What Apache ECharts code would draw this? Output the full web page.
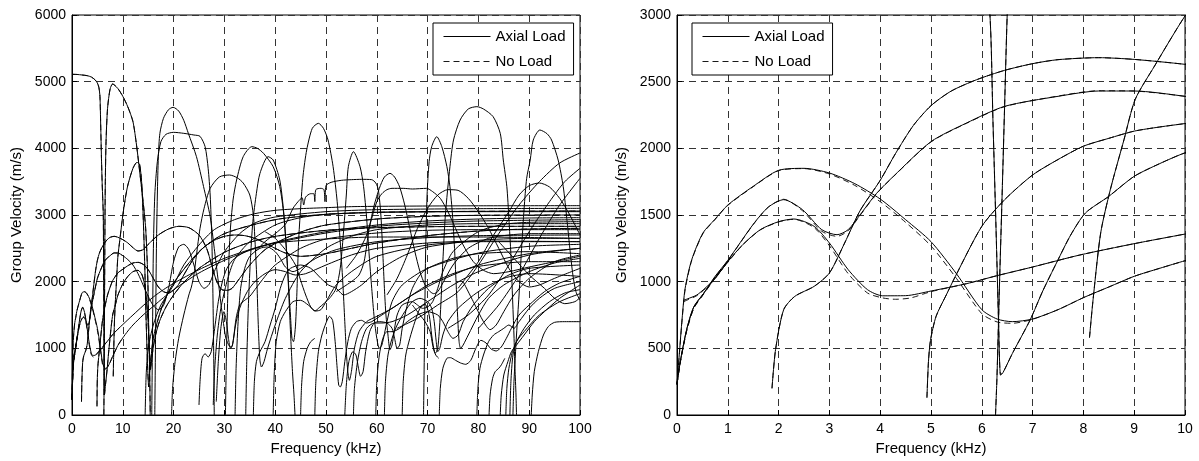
<!DOCTYPE html>
<html>
<head>
<meta charset="utf-8">
<script src="https://cdn.jsdelivr.net/npm/echarts@6/dist/echarts.min.js"></script>
<style>html,body{margin:0;padding:0;background:#fff}#c{width:1199px;height:461px}</style>
</head>
<body>
<div id="c"></div>
<script>
// ---------- modes visible in both panels (axial load, solid) ----------
const modeA = [[0,230],[0.05,480],[0.1,720],[0.16,950],[0.29,1165],[0.51,1365],[0.74,1465],[1,1575],[1.5,1715],[2,1835],[2.5,1850],[3,1815],[3.5,1735],[4,1620],[4.5,1465],[5,1300],[5.5,1060],[6,790],[6.3,720],[6.6,700],[7,720],[7.5,790],[8,880],[8.5,960],[9,1040],[9.5,1100],[10,1157],[11,1260],[12,1350],[14,1500],[16,1630],[18,1760],[20,1880],[25,2130],[30,2320],[35,2470],[40,2590],[50,2750],[60,2850],[70,2910],[80,2940],[90,2955],[100,2960]];
const modeB = [[0,230],[0.06,390],[0.19,640],[0.33,810],[0.52,910],[0.75,1040],[1,1160],[1.5,1430],[1.8,1560],[2.1,1615],[2.47,1540],[2.85,1390],[3.15,1352],[3.37,1390],[3.6,1500],[3.93,1663],[4.26,1790],[5,2050],[5.7,2190],[6.45,2315],[7.5,2390],[8.3,2430],[9,2430],[10,2390],[11,2330],[12,2250],[13,2120],[14,1950],[15,1780],[16,1640],[17,1580],[18,1640],[19,1900],[20,2300],[21,2520],[22,2560],[23,2480],[24,2250],[25,2000],[26,1900],[27,1960],[28,2150],[30,2450],[33,2720],[36,2880],[40,2970],[50,3050],[60,3080],[80,3095],[100,3100]];
const modeC = [[1.87,200],[1.94,490],[2.1,790],[2.32,890],[2.7,965],[3,1065],[3.3,1290],[3.6,1530],[4,1760],[4.3,1960],[4.65,2170],[5,2320],[5.4,2430],[5.9,2515],[6.45,2585],[7,2635],[7.5,2665],[8.3,2680],[9,2667],[10,2630],[11,2580],[12,2510],[13,2460],[14,2480],[15,2560],[17,2700],[19,2790],[21,2830],[23,2810],[25,2700],[26.5,2500],[27.5,2250],[28.5,2000],[29.5,1880],[30.5,1870],[31.5,1900],[33,2050],[35,2250],[38,2480],[42,2650],[46,2770],[50,2850],[60,2940],[70,2980],[80,2995],[100,3000]];
const modeD = [[0,230],[0.06,390],[0.19,640],[0.33,810],[0.52,910],[0.75,1030],[1,1150],[1.3,1280],[1.64,1390],[2,1450],[2.3,1470],[2.7,1415],[3,1290],[3.37,1090],[3.75,940],[4.05,894],[4.5,895],[5,930],[5.7,985],[6.3,1045],[7,1110],[7.93,1200],[9,1285],[10,1357],[12,1500],[14,1640],[16,1770],[18,1880],[20,1975],[25,2180],[30,2350],[35,2480],[40,2580],[50,2730],[60,2830],[70,2880],[80,2910],[100,2930]];
const modeE = [[0.13,860],[0.2,870],[0.39,900],[0.55,950],[0.72,1012],[0.9,1100],[1.05,1180]];
const modeF = [[4.92,130],[4.95,400],[4.99,560],[5.1,740],[5.3,900],[5.48,1040],[6,1415],[6.45,1615],[7,1800],[7.5,1916],[8,2016],[8.5,2075],[9,2129],[9.5,2160],[10,2186],[11,2240],[12,2280],[13,2290],[14,2260],[15,2180],[16,2050],[17,1920],[18,1850],[19,1830],[20,1870],[21,1960],[22,2100],[24,2350],[26,2520],[28,2620],[30,2680],[32,2700],[34,2690],[36,2650],[38,2580],[40,2500],[42,2430],[45,2380],[50,2420],[55,2500],[60,2580],[70,2690],[80,2760],[90,2790],[100,2800]];
const modeG = [[0,5110],[1,5108],[2,5100],[3,5090],[3.8,5070],[4.5,5030],[5,4980],[5.3,4910],[5.5,4780],[5.65,4350],[5.8,3850],[5.95,3450],[6.05,3250],[6.16,3000],[6.22,2200],[6.28,1400],[6.33,700],[6.37,300],[6.42,320],[6.6,460],[6.95,712],[7.2,930],[7.48,1148],[7.75,1350],[8.04,1515],[8.5,1640],[9,1790],[9.5,1885],[10,1966],[11,2080],[12,2150],[13,2170],[13.8,2100],[14.4,1900],[14.9,1500],[15.2,1000],[15.45,680],[15.7,850],[16.3,1150],[17.2,1400],[18.5,1620],[20,1800],[22,1990],[25,2200],[30,2440],[35,2590],[40,2680],[50,2770],[60,2810],[80,2830],[100,2830]];
const modeH = [[6.27,0],[6.3,300],[6.35,1000],[6.4,1650],[6.45,2330],[6.5,3000],[6.56,3500],[6.7,4100],[7,4600],[7.5,4890],[8,4965],[9,4900],[10,4780],[11,4620],[12,4400],[12.7,4050],[13.4,3600],[14,3200],[14.5,2800],[14.9,2100],[15.1,1300],[15.3,600],[15.4,0]];
const modeI = [[8.12,580],[8.19,864],[8.34,1365],[8.53,1690],[8.8,2066],[9.02,2367],[9.4,2617],[10,2993],[10.5,3250],[11,3450],[12,3700],[12.8,3790],[13.3,3760],[13.7,3500],[14,3000],[14.3,2300],[14.6,1400],[14.9,700],[15.1,420],[15.35,700],[16,1150],[17,1450],[18,1680],[20,1980],[25,2450],[30,2720],[40,2930],[50,3010],[60,3040],[80,3055],[100,3060]];

// ---------- no-load counterparts (dashed) ----------
const noLoadA = [[0,230],[0.05,470],[0.1,710],[0.16,940],[0.29,1160],[0.51,1360],[0.74,1462],[1,1572],[1.5,1712],[2,1833],[2.5,1848],[3,1808],[3.5,1722],[4,1600],[4.5,1445],[5,1268],[5.5,1025],[6,760],[6.3,698],[6.6,688],[7,718],[7.5,790],[8,880],[8.5,960],[9,1040],[9.5,1100],[10,1157]];
const noLoadB = [[0,230],[0.06,385],[0.19,630],[0.33,800],[0.52,905],[0.75,1035],[1,1158],[1.5,1428],[1.8,1560],[2.1,1618],[2.47,1532],[2.85,1378],[3.15,1340],[3.37,1382],[3.6,1495],[3.93,1660],[4.26,1788],[5,2048],[5.7,2188],[6.45,2313],[7.5,2392],[8.3,2432],[9,2430],[10,2390]];
const noLoadD = [[0,230],[0.06,385],[0.19,630],[0.33,800],[0.52,905],[0.75,1025],[1,1145],[1.3,1278],[1.64,1388],[2,1448],[2.3,1468],[2.7,1405],[3,1270],[3.37,1060],[3.75,915],[4.05,878],[4.3,868],[4.6,878],[5,925],[5.7,985],[6.3,1045],[7,1110],[7.93,1200],[9,1285],[10,1357]];
const noLoadE = [[0.13,850],[0.2,862],[0.39,895],[0.55,945],[0.72,1008],[0.9,1098],[1.05,1180]];
const noLoadC = modeC, noLoadF = modeF, noLoadG = modeG, noLoadH = modeH, noLoadI = modeI;

// ---------- higher modes, 0-100 kHz panel only ----------
const arch20a = [[16.3,0],[16.45,1200],[16.6,2400],[16.8,3300],[17,3875],[17.3,4225],[18,4450],[19,4580],[19.9,4615],[21,4560],[22,4420],[22.9,4225],[24.5,3875],[25.9,3425],[27.2,2975],[28,2500],[28.8,2000],[29.6,1500],[30.3,1150],[31,1030],[31.4,1020],[31.8,1150],[32.3,1450],[33,1650],[34,1720],[35,1780],[36,1880],[38,2080],[40,2250],[45,2500],[50,2640],[60,2730],[70,2770],[80,2780],[100,2780]];
const arch20b = [[15.7,0],[15.85,1200],[16,2400],[16.3,3300],[16.8,3800],[17.5,4100],[18.5,4210],[20,4240],[22,4225],[24,4200],[25.2,4180],[26.2,4025],[26.8,3700],[27.2,3300],[27.5,2700],[27.7,2000],[27.85,1200],[27.95,500],[28,0]];
const arch31 = [[19.6,0],[19.8,400],[20.3,800],[21,1150],[22,1500],[23,1800],[23.5,1920],[24,2100],[24.5,2400],[25.2,2800],[26,3100],[27.2,3400],[29,3570],[31,3600],[32.5,3560],[33.7,3480],[35,3300],[35.7,3000],[36.1,2500],[36.4,2000],[36.6,1500],[36.8,1100],[37,820],[37.3,720],[37.8,800],[38.5,1000],[40,1350],[42,1750],[45,2150],[50,2500],[55,2680],[60,2780],[70,2850],[80,2870],[100,2870]];
const arch35 = [[30.2,0],[30.4,900],[30.7,1900],[31.1,2700],[31.7,3225],[32.4,3525],[33.7,3875],[35.4,4025],[36.5,4000],[37.7,3925],[39.6,3725],[40.9,3425],[41.7,3000],[42.2,2500],[42.6,2000],[43,1500],[43.3,1150],[43.6,1100],[44,1350],[44.3,1900],[44.6,2600],[45,3100],[45.5,3600],[46.2,3975],[47.3,4300],[48.5,4375],[49.5,4300],[50.4,4125],[51.4,3725],[52.2,3200],[52.8,2600],[53.3,2000],[53.7,1400],[54,950],[54.3,650],[54.6,520],[55,650],[55.6,1000],[56.5,1250],[58,1400],[60,1480],[63,1600],[67,1800],[72,2000],[80,2250],[90,2420],[100,2500]];
const arch39 = [[34.2,0],[34.4,800],[34.7,1600],[35.1,2300],[35.6,2900],[36.3,3325],[37,3625],[38.6,3875],[39.6,3825],[40.9,3525],[41.6,3100],[42.1,2600],[42.5,2100],[42.8,1600],[43.1,1100],[43.4,650],[43.7,300],[43.9,0]];
const arch55 = [[38,2750],[40,2650],[42,2480],[44,2250],[45,2020],[46,1800],[47,1620],[47.8,1560],[48.8,1620],[50,1700],[51,1780],[52,1900],[52.8,2200],[53.4,2700],[54,3300],[54.4,3725],[55.4,3950],[56.7,3725],[57.4,3425],[58,2950],[58.5,2400],[59,1900],[59.5,1450],[60,1150],[60.5,1000],[61,1050],[62,1400],[63,1700],[65,1950],[70,2200],[80,2430],[90,2530],[100,2560]];
const stepPlateau = [[36,2450],[38,2600],[40,2720],[42,2860],[43.5,3100],[44.5,3200],[45.3,3260],[45.6,3150],[46,3270],[47,3320],[47.6,3320],[47.8,3200],[48,3380],[49,3400],[49.6,3380],[49.8,3200],[50,3440],[51,3490],[53,3520],[55,3530],[57,3535],[59,3530],[59.8,3480],[60.3,3380],[60.8,3000],[61.2,2400],[61.5,1900],[61.8,1500],[62.2,1200],[62.6,980],[63,1050],[63.5,1300],[64,1500],[65,1650],[67,1700],[68,1650],[69,1600],[70,1620],[71,1700],[72,1900],[73,2150],[75,2450],[80,2750],[85,2860],[90,2890],[100,2900]];
const arch62 = [[52,1850],[55,2000],[56.5,2100],[57.5,2300],[58.5,2800],[59.5,3150],[60.5,3400],[61.5,3570],[62.6,3625],[63.5,3570],[64.5,3420],[65.5,3150],[66.5,2800],[67.5,2450],[68.5,2150],[69.5,1950],[70.5,1850],[71.2,1820],[72,1850],[73,1980],[75,2250],[78,2500],[82,2650],[86,2700],[90,2720],[100,2720]];
const plateau66 = [[54,2200],[56,2400],[58,2700],[60,3200],[61,3320],[62,3380],[63,3400],[65.2,3400],[67,3390],[69.8,3400],[71,3350],[72.5,3250],[74,3050],[75.5,2800],[77,2550],[79,2300],[81,2170],[83,2120],[86,2150],[90,2220],[95,2300],[100,2380]];
const arch72 = [[69.2,0],[69.4,1200],[69.6,2400],[69.9,3300],[70.3,3800],[70.8,4025],[71.8,4175],[72.8,4025],[73.8,3725],[74.4,3425],[74.9,3000],[75.3,2500],[75.6,2000],[75.9,1500],[76.2,1100],[76.5,1000],[77,1050],[78,1200],[80,1500],[82,1750],[85,1950],[90,2150],[95,2280],[100,2350]];
const arch75 = [[62,1800],[64,2050],[66,2400],[68,2800],[70,3100],[72,3300],[74,3380],[76,3370],[78,3250],[80,3050],[82,2800],[84,2500],[86,2200],[88,2000],[90,1920],[92,1950],[95,2050],[100,2200]];
const arch80 = [[67,1650],[68.5,1500],[69.5,1400],[70.5,1250],[71,1050],[71.5,925],[72,1000],[72.5,1500],[73,2300],[73.5,3000],[74.4,3725],[75.1,4125],[76.4,4425],[78,4590],[79.7,4625],[81,4590],[82.9,4475],[84.3,4225],[84.9,3825],[85.6,3425],[86,2950],[86.4,2400],[86.7,1800],[87,1200],[87.2,700],[87.4,300],[87.5,0]];
const arch92 = [[86.8,0],[87,500],[87.5,1200],[88,1800],[88.5,2500],[89,3100],[89.5,3550],[90.2,3825],[90.8,4125],[92.1,4275],[93.5,4220],[94.4,4125],[95.7,3825],[96.7,3425],[97.4,2950],[98,2500],[98.6,2100],[99.2,1850],[100,1720]];
const arch92b = [[76,1900],[78,2100],[80,2300],[83,2700],[86,3050],[88,3300],[90,3440],[92,3480],[94,3420],[96,3250],[98,3000],[100,2700]];
const rise100a = [[64,1300],[68,1450],[72,1650],[76,1850],[80,2250],[84,2720],[88,3150],[92,3500],[96,3780],[100,3930]];
const rise100b = [[74,1300],[78,1500],[82,1800],[86,2250],[90,2750],[94,3200],[97,3500],[100,3700]];
const rise100c = [[80,1300],[84,1650],[88,2100],[92,2650],[96,3150],[100,3550]];
const flat3140 = [[14.4,0],[14.6,600],[15,1000],[16,1350],[17.5,1650],[20,1950],[22,2250],[25,2550],[28,2780],[32,2930],[36,3020],[40,3070],[45,3095],[50,3110],[55,3125],[60,3130],[70,3135],[80,3138],[100,3140]];
const flat3050 = [[27.8,150],[28.1,700],[28.6,1200],[29.3,1600],[30.5,2000],[32,2330],[35,2600],[40,2850],[45,2960],[50,3010],[60,3040],[70,3048],[80,3050],[100,3050]];
const cut25 = [[25.0,150],[25.2,500],[25.6,850],[26.2,920],[26.8,870],[27.4,950],[28,1250],[28.8,1700],[29.6,2000],[30.5,2200],[32,2350],[35,2480],[40,2580],[50,2640],[60,2670],[80,2670],[100,2650]];
const cut28 = [[28.4,200],[28.8,800],[29.3,1300],[29.9,1550],[30.4,1400],[30.8,1150],[31.2,1000],[31.6,1050],[32.2,1350],[33,1600],[34.5,1850],[36,2000],[38,2120],[40,2180],[42,2150],[44,2100],[46,2120],[50,2250],[55,2400],[60,2500],[70,2580],[80,2610],[100,2600]];
const cut32 = [[32.1,0],[32.3,700],[32.7,1400],[33.2,1900],[34,2200],[35,2380],[37,2500],[38.5,2520],[40,2450],[41,2350],[42,2220],[43.5,2150],[45,2200],[48,2350],[52,2480],[60,2600],[70,2660],[80,2690],[100,2700]];
const cut36 = [[35.7,0],[35.9,500],[36.3,800],[37,950],[38,1100],[39,1350],[40,1600],[41,1900],[42,2100],[43,2200],[45,2250],[47,2200],[49,2050],[50.5,1950],[52,1900],[53.5,1800],[55,1850],[57,1950],[60,2150],[65,2380],[70,2520],[80,2620],[90,2650],[100,2650]];
const cut40 = [[39.6,0],[39.8,600],[40.2,1100],[41,1400],[42,1550],[43.5,1700],[45,1720],[46.5,1650],[48,1560],[49,1580],[50,1700],[52,1950],[55,2150],[60,2380],[70,2550],[80,2600],[100,2600]];
const cut45 = [[45,0],[45.2,450],[45.6,800],[46.3,1000],[47,1100],[47.8,1150]];
const bump51 = [[47.8,0],[48,500],[48.5,950],[49.2,1200],[50,1380],[50.7,1480],[51.3,1420],[51.8,1100],[52.2,700],[52.5,450],[52.8,420],[53.2,500],[53.7,800],[54.3,1100],[55,1300],[56,1400],[57,1420],[58,1380],[59,1400],[60,1450],[62,1550],[65,1700],[70,1950],[75,2120],[80,2230],[90,2300],[100,2300]];
const cut54 = [[53.7,0],[54,450],[54.5,800],[55.3,950],[55.9,900],[56.4,700],[56.8,580],[57.3,650],[57.8,950],[58.6,1250],[59.5,1380],[60.5,1400],[62,1380],[63,1300],[63.5,1150],[64,1000],[64.5,1050],[65,1300],[66,1650],[67,1900],[68.5,2100],[70,2200],[75,2350],[80,2420],[90,2450],[100,2420]];
const cut55 = [[55.4,0],[55.6,400],[56.2,800],[57,1100],[58,1300],[59.5,1380],[61,1380],[63,1400],[66,1500],[70,1700],[75,1950],[80,2150],[90,2400],[100,2500]];
const cut60 = [[59.8,0],[60,500],[60.5,900],[61.2,1150],[62,1250],[63,1250],[64.5,1300],[66,1400],[68,1500],[70,1550],[72,1500],[73,1400],[74,1250],[75,1150],[76,1200],[77,1400],[79,1650],[82,1900],[86,2100],[90,2200],[100,2250]];
const cut62 = [[61.5,0],[61.7,500],[62.2,900],[63,1150],[64,1350],[65.5,1550],[67,1700],[68.5,1750],[70,1700],[70.8,1600],[71.3,1400],[71.7,1100],[72,950],[72.4,1000],[73,1200],[74,1400],[76,1600],[80,1850],[85,2050],[90,2120],[100,2080]];
const cut65 = [[65,0],[65.2,500],[65.7,900],[66.5,1150],[67.5,1400],[68.5,1600],[69.5,1660],[70.3,1500],[70.8,1200],[71.2,1000],[71.6,900],[72.2,850]];
const cut72 = [[72.3,0],[72.5,400],[73,700],[73.8,850],[74.5,860],[75.5,820],[76.5,780],[77.5,760],[78.5,820],[79.5,1000],[80.5,1120],[81.5,1080],[82.5,990],[83.5,960],[84.5,1020],[85.5,1150],[86.5,1300],[88,1500],[90,1650],[93,1850],[96,1980],[100,2080]];
const cut80 = [[79.7,0],[79.9,400],[80.3,700],[81,900],[82,1100],[83,1200],[84,1250],[85,1300],[86,1350],[87,1300],[88,1400],[90,1600],[92,1750],[95,1900],[100,2000]];
const cut82 = [[82.1,0],[82.3,300],[82.8,550],[83.3,650],[84,700],[84.5,750],[85.2,850]];
const cut84 = [[84.3,0],[84.5,300],[85,600],[85.8,800],[86.5,950],[87.5,1050],[89,1200],[91,1400],[93,1550],[96,1750],[100,1950]];
const cut85 = [[85.4,0],[85.6,400],[86,700],[86.7,950],[87.5,1100],[89,1300],[91,1500],[94,1700],[97,1830],[100,1880]];
const cut86 = [[86.2,0],[86.4,500],[86.8,900],[87.5,1100],[89,1250],[92,1500],[96,1700],[100,1820]];
const cut90 = [[90.4,0],[90.6,300],[91,650],[91.8,950],[92.8,1200],[93.8,1330],[95,1390],[97,1400],[100,1400]];
const dip82 = [[77,2000],[79,1700],[81,1400],[82.3,1280],[83.5,1350],[85,1550],[87,1800],[90,2050],[95,2300],[100,2400]];
const dip97 = [[84,2600],[87,2350],[90,2100],[93,1900],[95,1750],[97,1670],[99,1700],[100,1760]];

const leftOnly = [arch20a, arch20b, arch31, arch35, arch39, arch55, stepPlateau, arch62, plateau66, arch72, arch75, arch80, arch92, arch92b, rise100a, rise100b, rise100c, flat3140, flat3050, cut25, cut28, cut32, cut36, cut40, cut45, bump51, cut54, cut55, cut60, cut62, cut65, cut72, cut80, cut82, cut84, cut85, cut86, cut90, dip82, dip97];
const sharedAxial = [modeA, modeB, modeC, modeD, modeE, modeF, modeG, modeH, modeI];
const sharedNoLoad = [noLoadA, noLoadB, noLoadC, noLoadD, noLoadE, noLoadF, noLoadG, noLoadH, noLoadI];

const FONT = 'Liberation Sans, Arial, Helvetica, sans-serif';
function line(name, data, gi, dashed) {
  return {
    name: name, type: 'line', xAxisIndex: gi, yAxisIndex: gi, data: data,
    symbol: 'none', smooth: 0.25, silent: true, animation: false,
    color: '#000',
    lineStyle: { color: '#000', width: 1, type: dashed ? [6, 4] : 'solid', opacity: dashed ? 0.9 : 1 },
    z: dashed ? 3 : 2
  };
}
const series = [];
[0, 1].forEach(function (gi) {
  sharedNoLoad.forEach(function (d) { series.push(line('No Load', d, gi, true)); });
  sharedAxial.forEach(function (d) { series.push(line('Axial Load', d, gi, false)); });
});
leftOnly.forEach(function (d) { series.push(line('Axial Load', d, 0, false)); });

const plain = function (v) { return String(v); };
function xAx(gi, max, interval) {
  return {
    gridIndex: gi, type: 'value', min: 0, max: max, interval: interval,
    name: 'Frequency (kHz)', nameLocation: 'middle', nameGap: 25,
    nameTextStyle: { fontSize: 15, color: '#000', fontFamily: FONT },
    axisLine: { show: true, lineStyle: { color: '#000', width: 1 } },
    axisTick: { show: true, inside: true, length: 5, lineStyle: { color: '#000' } },
    axisLabel: { fontSize: 14, color: '#000', margin: 7, fontFamily: FONT, formatter: plain },
    splitLine: { show: true, lineStyle: { color: '#333', width: 1, type: [7, 5] } }
  };
}
function yAx(gi, max, interval) {
  return {
    gridIndex: gi, type: 'value', min: 0, max: max, interval: interval,
    name: 'Group Velocity (m/s)', nameLocation: 'middle', nameGap: 48,
    nameTextStyle: { fontSize: 15, color: '#000', fontFamily: FONT },
    axisLine: { show: true, lineStyle: { color: '#000', width: 1 } },
    axisTick: { show: true, inside: true, length: 5, lineStyle: { color: '#000' } },
    axisLabel: { fontSize: 14, color: '#000', margin: 6, fontFamily: FONT, formatter: plain },
    splitLine: { show: true, lineStyle: { color: '#333', width: 1, type: [7, 5] } }
  };
}
function legend(left) {
  return {
    left: left, top: 23, orient: 'vertical', itemWidth: 47, itemHeight: 14, itemGap: 10,
    padding: [6, 8, 6, 10], borderColor: '#000', borderWidth: 1, backgroundColor: '#fff',
    selectedMode: false, z: 10,
    itemStyle: { opacity: 0, color: 'transparent', borderWidth: 0 },
    lineStyle: { width: 1, inherit: true },
    textStyle: { fontSize: 15, color: '#000', fontFamily: FONT },
    data: ['Axial Load', 'No Load']
  };
}
const option = {
  animation: false,
  backgroundColor: '#fff',
  grid: [
    { left: 72, top: 15, width: 508, height: 400, show: true, borderColor: '#000', borderWidth: 1, containLabel: false },
    { left: 677, top: 15, width: 508, height: 400, show: true, borderColor: '#000', borderWidth: 1, containLabel: false }
  ],
  xAxis: [xAx(0, 100, 10), xAx(1, 10, 1)],
  yAxis: [yAx(0, 6000, 1000), yAx(1, 3000, 500)],
  legend: [legend(433), legend(692)],
  series: series
};
const chart = echarts.init(document.getElementById('c'), null, { renderer: 'canvas' });
chart.setOption(option);
</script>
</body>
</html>
